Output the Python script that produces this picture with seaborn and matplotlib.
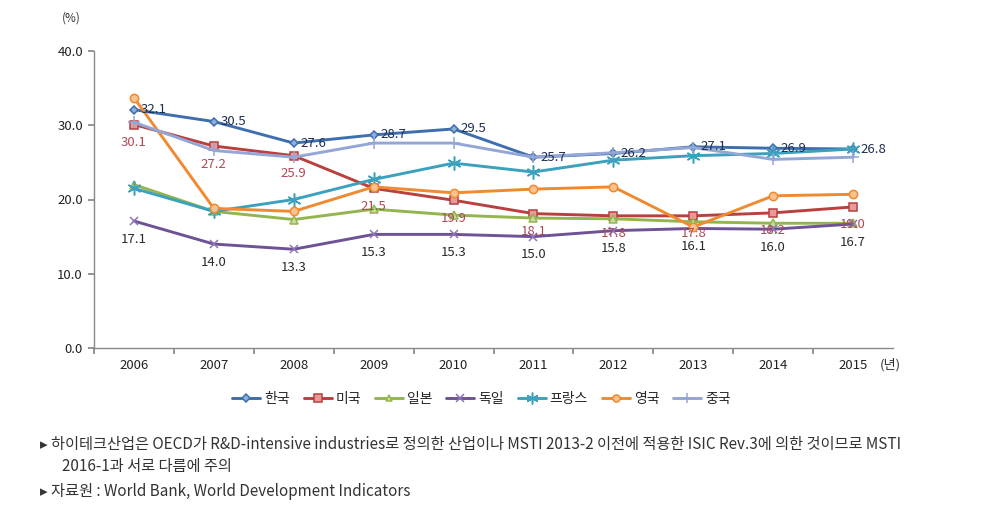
import matplotlib
matplotlib.use("Agg")
import matplotlib.pyplot as plt
import seaborn as sns
import pandas as pd

sns.set_theme(style="white")
plt.rcParams['font.family'] = ['Noto Sans CJK KR', 'DejaVu Sans']

years = [2006, 2007, 2008, 2009, 2010, 2011, 2012, 2013, 2014, 2015]
korea   = [32.1, 30.5, 27.6, 28.7, 29.5, 25.7, 26.2, 27.1, 26.9, 26.8]
usa     = [30.1, 27.2, 25.9, 21.5, 19.9, 18.1, 17.8, 17.8, 18.2, 19.0]
japan   = [22.0, 18.4, 17.3, 18.7, 17.9, 17.5, 17.4, 17.0, 16.8, 16.8]
germany = [17.1, 14.0, 13.3, 15.3, 15.3, 15.0, 15.8, 16.1, 16.0, 16.7]
france  = [21.5, 18.4, 20.0, 22.7, 24.9, 23.7, 25.3, 25.9, 26.2, 26.8]
uk      = [33.7, 18.8, 18.4, 21.7, 20.9, 21.4, 21.7, 16.3, 20.5, 20.7]
china   = [30.4, 26.6, 25.7, 27.6, 27.6, 25.7, 26.3, 27.0, 25.4, 25.7]
names = ["한국", "미국", "일본", "독일", "프랑스", "영국", "중국"]
series = [korea, usa, japan, germany, france, uk, china]

styles = {
    "한국":  dict(color="#3F6EAE", marker="D", ms=4.5, mfc="#8FB0DC", mec="#3F6EAE"),
    "미국":  dict(color="#B8403E", marker="s", ms=6, mfc="#E79A9A", mec="#B8403E"),
    "일본":  dict(color="#93B54F", marker="^", ms=5.5, mfc="#C8DCA0", mec="#93B54F"),
    "독일":  dict(color="#6E5296", marker="x", ms=6, mfc="#6E5296", mec="#8E74B8"),
    "프랑스": dict(color="#3BA1BC", marker=(6, 2, 0), ms=10, mfc="#3BA1BC", mec="#3BA1BC"),
    "영국":  dict(color="#F08A30", marker="o", ms=6, mfc="#F9C28E", mec="#F08A30"),
    "중국":  dict(color="#93A6D6", marker="+", ms=8, mfc="#93A6D6", mec="#93A6D6"),
}

fig = plt.figure(figsize=(9.89, 5.19), dpi=100)
ax = fig.add_axes([94/989, 1-348/519, (893-94)/989, (348-51)/519])

for name, vals in zip(names, series):
    st = styles[name]
    df = pd.DataFrame({"year": years, "v": vals})
    sns.lineplot(data=df, x="year", y="v", ax=ax, color=st["color"], lw=2.1,
                 marker=st["marker"], markersize=st["ms"], markerfacecolor=st["mfc"],
                 markeredgecolor=st["mec"], markeredgewidth=1.1, label=name)

for x, v in zip(years, korea):
    ax.annotate(f"{v:.1f}", (x, v), xytext=(7, 0), textcoords="offset pixels",
                ha="left", va="center", fontsize=9.5, color="#1F2F4F")
for x, v in zip(years, usa):
    ax.annotate(f"{v:.1f}", (x, v), xytext=(0, -18), textcoords="offset pixels",
                ha="center", va="center", fontsize=9.5, color="#B04A55")
for x, v in zip(years, germany):
    ax.annotate(f"{v:.1f}", (x, v), xytext=(0, -18), textcoords="offset pixels",
                ha="center", va="center", fontsize=9.5, color="#2A2A2A")

ax.set_xlim(2005.5, 2015.5)
ax.set_ylim(0, 40)
ax.set_yticks([0, 10, 20, 30, 40])
ax.set_yticklabels([f"{t:.1f}" for t in [0, 10, 20, 30, 40]], fontsize=9.5, color="#222222")
ax.set_xticks([y + 0.5 for y in years[:-1]] + [2005.5])
ax.set_xticklabels([])
ax.set_xticks(years, minor=True)
ax.set_xticklabels([str(y) for y in years], minor=True, fontsize=9.5, color="#222222")
ax.tick_params(axis="x", which="major", length=4, color="#888888", direction="out", bottom=True)
ax.tick_params(axis="x", which="minor", length=0, pad=8)
ax.tick_params(axis="y", length=4, color="#888888", direction="out", left=True, pad=4)
ax.set_xlabel("")
ax.set_ylabel("")
for s in ["top", "right"]:
    ax.spines[s].set_visible(False)
for s in ["left", "bottom"]:
    ax.spines[s].set_color("#888888")
    ax.spines[s].set_linewidth(1)
ax.grid(False)

ax.legend(loc="upper center", bbox_to_anchor=(0.485, -0.105), ncol=7, frameon=False,
          fontsize=10, handlelength=2.0, columnspacing=1.0, handletextpad=0.3,
          markerscale=0.85)

fig.text(62/989, 1-18/519, "(%)", fontsize=8.5, ha="left", va="center", color="#333333")
fig.text(880/989, 1-365/519, "(년)", fontsize=9.5, ha="left", va="center", color="#333333")

fn = 11
fig.text(40/989, 1-444/519, "▸ 하이테크산업은 OECD가 R&D-intensive industries로 정의한 산업이나 MSTI 2013-2 이전에 적용한 ISIC Rev.3에 의한 것이므로 MSTI",
         fontsize=fn, ha="left", va="center", color="#333333")
fig.text(62/989, 1-466/519, "2016-1과 서로 다름에 주의",
         fontsize=fn, ha="left", va="center", color="#333333")
fig.text(40/989, 1-492/519, "▸ 자료원 : World Bank, World Development Indicators",
         fontsize=fn, ha="left", va="center", color="#333333")

fig.savefig("out.png", dpi=100)
